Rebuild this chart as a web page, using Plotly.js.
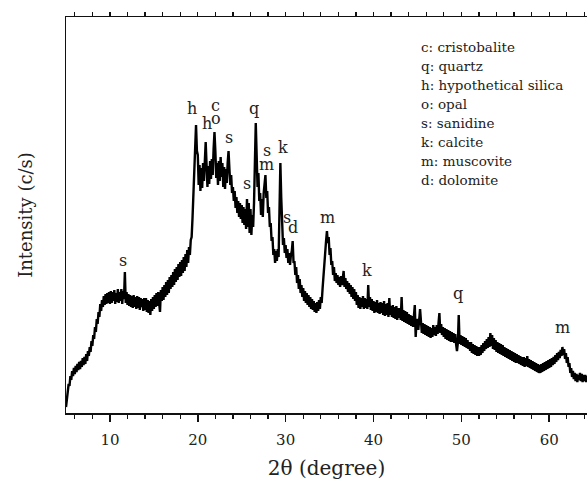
<!DOCTYPE html>
<html>
<head>
<meta charset="utf-8">
<script src="https://cdn.plot.ly/plotly-3.0.1.min.js"></script>
<style>html,body{margin:0;padding:0;background:#fff;}#chart{width:587px;height:484px;}</style>
</head>
<body>
<div id="chart"></div>
<script>
// 2θ sampling grid (degrees)
const thetaStart = 5.0;
const thetaStep = 0.1;

// Intensity, 5.0° … 64.4° in 0.1° steps (arbitrary c/s units)
const intensity = [
  6,16,18,29,27,37,33,42,37,45,
  39,47,41,49,43,51,44,52,46,55,
  48,56,49,59,52,62,57,66,61,72,
  67,78,74,86,81,94,89,101,96,109,
  102,113,106,117,108,119,109,120,110,121,
  109,122,110,121,112,123,109,120,111,124,
  110,121,112,124,109,122,114,141,110,121,
  108,119,107,118,106,117,105,118,106,116,
  104,117,105,116,103,115,106,114,102,115,
  103,115,101,113,100,112,98,114,102,116,
  104,118,106,120,107,121,110,101,123,112,
  126,113,128,116,131,118,133,120,136,124,
  138,126,141,128,144,131,146,133,149,136,
  151,137,153,140,156,142,159,146,163,150,
  166,158,173,176,195,218,252,270,288,262,
  258,228,248,222,245,225,250,232,262,271,
  248,226,247,229,252,234,254,238,264,281,
  262,235,250,228,252,232,256,236,250,226,
  246,224,244,230,250,262,244,228,238,220,
  226,212,222,205,216,200,212,196,210,194,
  208,190,206,188,204,184,214,186,210,180,
  204,178,198,186,210,250,290,258,226,240,
  212,220,198,214,196,220,230,238,215,222,
  200,206,186,190,172,176,158,164,150,162,
  152,164,156,200,250,215,176,168,175,160,
  168,155,164,150,160,148,158,162,172,150,
  152,138,146,130,138,124,134,120,128,116,
  125,112,122,110,120,108,118,106,116,104,
  114,103,112,101,110,100,111,102,113,104,
  116,110,124,138,150,162,172,182,170,176,
  158,165,148,152,138,146,132,140,130,138,
  128,136,126,137,128,134,142,126,135,124,
  132,121,130,119,128,116,126,114,124,112,
  121,108,118,105,116,104,115,106,117,104,
  115,105,114,104,128,106,116,103,114,102,
  112,100,111,101,113,100,110,99,111,100,
  110,98,112,97,109,98,110,96,115,98,
  107,96,108,95,106,94,107,93,105,95,
  105,93,116,92,103,91,102,90,101,89,
  99,88,98,87,97,86,97,108,76,92,
  94,83,93,104,92,80,90,79,89,78,
  88,77,87,76,86,75,85,76,88,78,
  86,77,88,79,90,100,80,89,78,86,
  76,85,74,84,73,83,72,82,71,81,
  71,80,70,79,69,62,70,98,69,78,
  68,77,67,76,66,75,65,73,64,71,
  62,71,60,69,59,68,58,67,57,66,
  57,66,58,68,60,70,62,72,64,74,
  65,76,66,80,67,78,64,75,63,73,
  61,71,60,70,59,69,58,68,57,66,
  56,65,55,64,54,63,53,62,52,61,
  51,60,50,59,50,58,49,57,48,56,
  47,56,46,55,47,57,46,54,45,53,
  44,52,43,51,42,50,41,49,40,48,
  40,49,41,50,42,51,43,52,44,53,
  45,54,46,55,48,56,49,58,51,60,
  53,61,55,63,57,66,58,64,54,60,
  50,56,46,50,40,45,36,42,34,40,
  32,39,31,38,33,40,32,39,31,38,
  32,38,31,37,33
];

// Peak labels
const peakLabels = ['s','h','h','c','o','s','s','q','s','m','k','s','d','m','k','q','m'];
const peakX      = [11.48,19.33,21.04,22.07,22.07,23.54,25.59,26.39,27.87,27.87,29.69,30.14,30.82,34.81,39.24,49.6,61.54];
const peakY      = [153,305,290,308,295,276,230,305,263,249,266,196,186,196,143,120,86];

// Phase key
const phaseKey = ['c: cristobalite','q: quartz','h: hypothetical silica','o: opal','s: sanidine','k: calcite','m: muscovite','d: dolomite'];
const phaseKeyX = 45.16;
const phaseKeyY = [366,347,328,309,290,271,252,233];

const serif = 'DejaVu Serif';
const ink = '#111';
const txt = '#222';

const traces = [
  {
    type: 'scatter', mode: 'lines',
    x0: thetaStart, dx: thetaStep, y: intensity,
    line: {color: '#000', width: 2.4},
    hoverinfo: 'skip', showlegend: false
  },
  { type: 'scatter', mode: 'lines', x: [], y: [], xaxis: 'x2', yaxis: 'y', showlegend: false, hoverinfo: 'skip' }
];

const annotations = [];
peakLabels.forEach((t, i) => annotations.push({
  x: peakX[i], y: peakY[i], xref: 'x', yref: 'y', text: t, showarrow: false,
  xanchor: 'center', yanchor: 'middle', font: {family: serif, size: 16, color: txt}
}));
phaseKey.forEach((t, i) => annotations.push({
  x: phaseKeyX, y: phaseKeyY[i], xref: 'x', yref: 'y', text: t, showarrow: false,
  xanchor: 'left', yanchor: 'middle', font: {family: serif, size: 13.5, color: txt}
}));

const layout = {
  width: 587, height: 484,
  margin: {l: 66, r: 0, t: 17, b: 71, pad: 0},
  paper_bgcolor: '#fff', plot_bgcolor: '#fff',
  showlegend: false,
  font: {family: serif, color: txt},
  xaxis: {
    range: [5, 64.3], showline: true, linecolor: ink, linewidth: 1.5,
    ticks: 'outside', ticklen: 7, tickwidth: 1.5, tickcolor: ink,
    tick0: 0, dtick: 10, tickfont: {family: serif, size: 15, color: txt},
    ticklabelstandoff: 5,
    minor: {dtick: 2, ticks: 'outside', ticklen: 4, tickwidth: 1.3, tickcolor: ink, showgrid: false},
    showgrid: false, zeroline: false, automargin: false,
    title: {text: '2θ (degree)', font: {family: serif, size: 20, color: txt}, standoff: 13}
  },
  xaxis2: {
    overlaying: 'x', side: 'top', anchor: 'y', range: [5, 64.3],
    showline: true, linecolor: ink, linewidth: 1.5,
    ticks: 'outside', ticklen: 4, tickwidth: 1.3, tickcolor: ink,
    tick0: 0, dtick: 2, showticklabels: false, showgrid: false, zeroline: false
  },
  yaxis: {
    range: [0, 396], showline: true, linecolor: ink, linewidth: 1.5,
    ticks: '', showticklabels: false, showgrid: false, zeroline: false, automargin: false,
    title: {text: 'Intensity (c/s)', font: {family: serif, size: 18, color: txt}, standoff: 27}
  },
  annotations: annotations
};

Plotly.newPlot('chart', traces, layout, {displayModeBar: false, staticPlot: true});
</script>
</body>
</html>
